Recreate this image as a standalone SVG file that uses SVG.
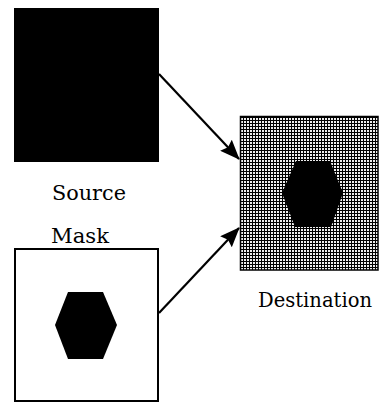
<svg xmlns="http://www.w3.org/2000/svg" width="379" height="403" viewBox="0 0 379 403">
<style>
.lbl{font-family:"DejaVu Serif","Liberation Serif",serif;font-size:21px;fill:#000}
.conn{stroke:#000;stroke-width:2.2;fill:none}
</style>
<defs>
<pattern id="grid" width="3" height="3" patternUnits="userSpaceOnUse">
<rect width="3" height="3" fill="#eee"/>
<rect x="0" y="0" width="3" height="1" fill="#000"/>
<rect x="0" y="0" width="1" height="3" fill="#000"/>
</pattern>
<marker id="ah" viewBox="0 0 20 16" refX="19" refY="8" markerWidth="20" markerHeight="16" orient="auto" markerUnits="userSpaceOnUse">
<path d="M0,0 L20,8 L0,16 L3,8 z" fill="#000"/>
</marker>
</defs>
<g id="source">
<rect x="14" y="8" width="145" height="154" fill="#000"/>
<text class="lbl" x="52" y="200" textLength="74" lengthAdjust="spacingAndGlyphs">Source</text>
</g>
<g id="mask">
<rect x="15" y="249" width="143" height="152" fill="#fff" stroke="#000" stroke-width="2"/>
<polygon points="55,325 68,292 103,292 117,325 103,359 68,359" fill="#000"/>
<text class="lbl" x="51" y="243" textLength="58" lengthAdjust="spacingAndGlyphs">Mask</text>
</g>
<g id="destination">
<rect x="240.5" y="116.5" width="137.5" height="153.5" fill="url(#grid)" stroke="#000" stroke-width="1.5"/>
<polygon points="282,193 296,161 330,161 343,193 331,227 295,227" fill="#000"/>
<text class="lbl" x="258" y="307" style="font-size:20px" textLength="114" lengthAdjust="spacingAndGlyphs">Destination</text>
</g>
<g id="connectors">
<line class="conn" x1="159" y1="74" x2="239" y2="159" marker-end="url(#ah)"/>
<line class="conn" x1="159" y1="313" x2="239" y2="228" marker-end="url(#ah)"/>
</g>
</svg>
